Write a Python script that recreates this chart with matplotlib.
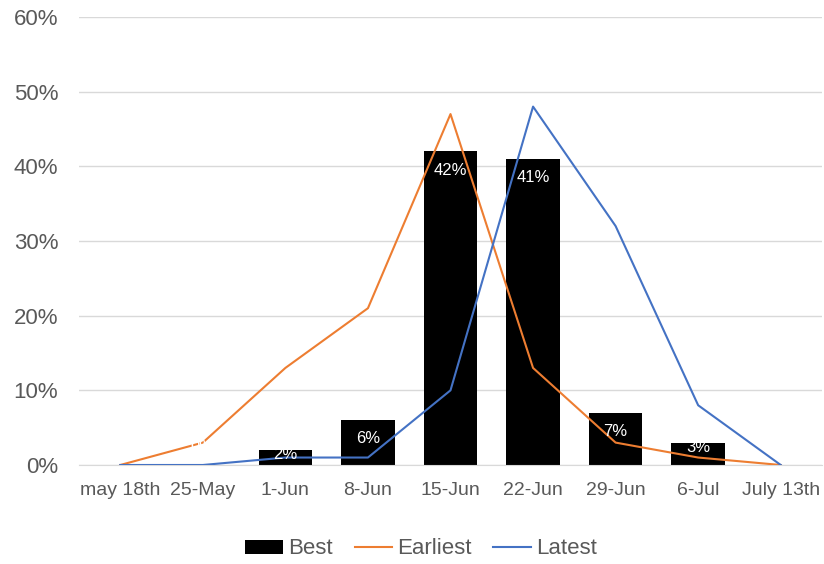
import matplotlib.pyplot as plt
from matplotlib.ticker import PercentFormatter

plt.rcParams['font.family'] = ['Liberation Sans', 'DejaVu Sans']

weeks = ["may 18th", "25-May", "1-Jun", "8-Jun", "15-Jun", "22-Jun", "29-Jun", "6-Jul", "July 13th"]
best = [0, 0, 0.02, 0.06, 0.42, 0.41, 0.07, 0.03, 0]
earliest = [0, 0.03, 0.13, 0.21, 0.47, 0.13, 0.03, 0.01, 0]
latest = [0, 0, 0.01, 0.01, 0.10, 0.48, 0.32, 0.08, 0]

grey = "#595959"

fig = plt.figure(figsize=(8.24, 5.64), dpi=100)
ax = fig.add_axes([79 / 824, 99 / 564, 743 / 824, 448 / 564])

x = list(range(len(weeks)))
bars = ax.bar(x, best, width=0.65, color="black", label="Best", zorder=2)
l1, = ax.plot(x, earliest, color="#ED7D31", lw=1.5, label="Earliest", zorder=3)
l2, = ax.plot(x, latest, color="#4472C4", lw=1.5, label="Latest", zorder=3)

# data labels, white, inside end of the bars
for xi, v in zip(x, best):
    if v == 0:
        y = 0.025
    elif v < 0.05:
        y = v - 0.006
    else:
        y = v - 0.025
    ax.text(xi, y, "{:.0%}".format(v), color="white", fontsize=12,
            ha="center", va="center", zorder=4)

ax.set_xlim(-0.5, len(weeks) - 0.5)
ax.set_ylim(0, 0.6)
ax.set_yticks([0, 0.1, 0.2, 0.3, 0.4, 0.5, 0.6])
ax.yaxis.set_major_formatter(PercentFormatter(1.0, decimals=0))
ax.set_xticks(x)
ax.set_xticklabels(weeks)
ax.tick_params(axis="y", length=0, labelsize=16, labelcolor=grey, pad=15)
ax.tick_params(axis="x", length=0, labelsize=14, labelcolor=grey, pad=12)
ax.grid(axis="y", color="#d9d9d9", lw=1, zorder=0)
ax.set_axisbelow(True)
for s in ["top", "right", "left"]:
    ax.spines[s].set_visible(False)
ax.spines["bottom"].set_color("#d9d9d9")

fig.legend([bars, l1, l2], ["Best", "Earliest", "Latest"], loc="center",
           bbox_to_anchor=(421 / 824, 1 - 549 / 564), ncol=3,
           frameon=False, fontsize=16, labelcolor=grey, handlelength=1.7,
           handleheight=0.6, handletextpad=0.2, columnspacing=1.0)

fig.savefig("out.png", dpi=100)
